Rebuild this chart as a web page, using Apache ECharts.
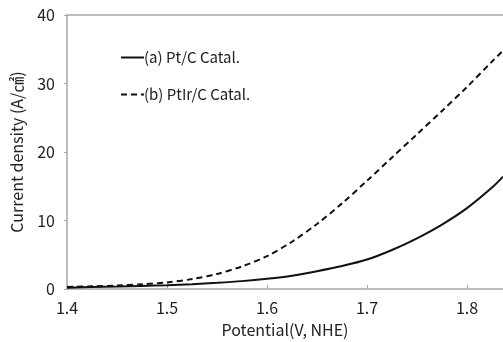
<!DOCTYPE html>
<html>
<head>
<meta charset="utf-8">
<script src="https://cdn.jsdelivr.net/npm/echarts@6/dist/echarts.min.js"></script>
<style>
  html, body {margin: 0; padding: 0; background: #fff;}
  #chart {width: 503px; height: 342px;}
</style>
</head>
<body>
<div id="chart"></div>
<script>
// potential (V, NHE)
const potential = [1.400, 1.425, 1.450, 1.475, 1.500, 1.525, 1.550, 1.575, 1.600, 1.625,
  1.650, 1.675, 1.700, 1.725, 1.750, 1.775, 1.800, 1.825, 1.836]
// current density (A/cm2)
const ptC = [0.2, 0.28, 0.35, 0.45, 0.55, 0.7, 0.9, 1.15, 1.5, 1.95,
  2.6, 3.35, 4.3, 5.7, 7.4, 9.4, 11.8, 14.8, 16.4]
const ptIrC = [0.3, 0.4, 0.5, 0.7, 0.95, 1.45, 2.2, 3.3, 4.8, 6.9,
  9.5, 12.5, 15.8, 19.2, 22.6, 26.0, 29.5, 33.2, 34.8]
const seriesNames = ['(a) Pt/C Catal.', '(b) PtIr/C Catal.']

const font = '"Noto Sans CJK KR", "Noto Sans", sans-serif'
const axisGray = '#a6a6a6'
const ink = '#111'

const pairs = ys => potential.map((x, i) => [x, ys[i]])

const chart = echarts.init(document.getElementById('chart'))
chart.setOption({
  animation: false,
  textStyle: {fontFamily: font, color: '#222'},
  grid: {left: 67, top: 15, right: 0, bottom: 53, outerBoundsMode: 'none', containLabel: false},
  legend: {
    orient: 'vertical',
    left: 115,
    top: 45,
    itemGap: 22,
    itemWidth: 23,
    itemHeight: 14,
    data: seriesNames,
    itemStyle: {opacity: 0},
    textStyle: {fontFamily: font, fontSize: 15, color: '#222', padding: [0, 0, 0, -5]}
  },
  xAxis: [
    {
      type: 'value',
      min: 1.4,
      max: 1.836,
      interval: 0.1,
      name: 'Potential(V, NHE)',
      nameLocation: 'middle',
      nameGap: 33,
      nameTextStyle: {fontSize: 16, color: '#222'},
      axisLine: {lineStyle: {color: axisGray, width: 1.5}},
      axisTick: {inside: true, length: 4, lineStyle: {color: axisGray}},
      axisLabel: {fontSize: 16, color: '#222', margin: 11, formatter: v => v.toFixed(1), showMaxLabel: false},
      splitLine: {show: false}
    },
    {
      type: 'value',
      position: 'top',
      min: 1.4,
      max: 1.836,
      axisLine: {show: true, lineStyle: {color: axisGray, width: 1.5}},
      axisTick: {show: false},
      axisLabel: {show: false},
      splitLine: {show: false}
    }
  ],
  yAxis: {
    type: 'value',
    min: 0,
    max: 40,
    interval: 10,
    name: 'Current density (A/㎠)',
    nameLocation: 'middle',
    nameGap: 42,
    nameTextStyle: {fontSize: 16, color: '#222'},
    axisLine: {show: true, lineStyle: {color: axisGray, width: 1.5}},
    axisTick: {show: true, length: 3, lineStyle: {color: axisGray}},
    axisLabel: {fontSize: 16, color: '#222', margin: 12},
    splitLine: {show: false}
  },
  series: [
    {
      name: seriesNames[0],
      type: 'line',
      data: pairs(ptC),
      smooth: 0.3,
      symbol: 'none',
      itemStyle: {color: ink},
      lineStyle: {color: ink, width: 2}
    },
    {
      name: seriesNames[1],
      type: 'line',
      data: pairs(ptIrC),
      smooth: 0.3,
      symbol: 'none',
      itemStyle: {color: ink},
      lineStyle: {color: ink, width: 2, type: [6, 4]}
    }
  ]
})
</script>
</body>
</html>
